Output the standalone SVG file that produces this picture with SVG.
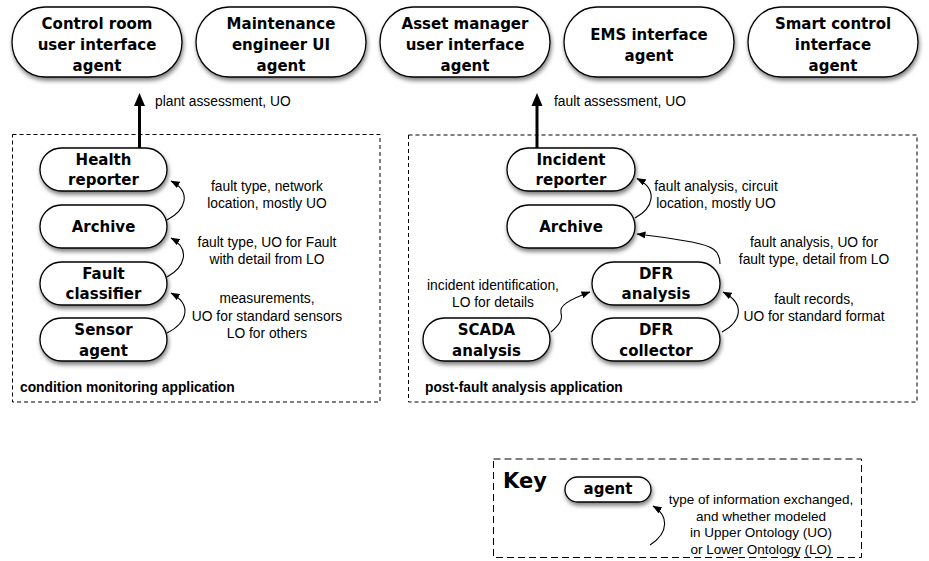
<svg xmlns="http://www.w3.org/2000/svg" width="929" height="561" viewBox="0 0 929 561">
<style>
.node{fill:#fff;stroke:#000;stroke-width:1.3;filter:url(#sh)}
.nt{font-family:"DejaVu Sans",sans-serif;font-weight:bold;font-size:15px;text-anchor:middle;fill:#000}
.lbl{font-family:"Liberation Sans",Arial,sans-serif;font-size:13.8px;text-anchor:middle;fill:#000}
.app{font-family:"Liberation Sans",Arial,sans-serif;font-size:13.8px;font-weight:bold;fill:#000}
.box{fill:none;stroke:#000;stroke-width:1;stroke-dasharray:4,3}
.conn{fill:none;stroke:#000;stroke-width:1.1;marker-end:url(#ah)}
</style>
<defs>
<filter id="sh" x="-10%" y="-20%" width="125%" height="160%">
<feDropShadow dx="1" dy="3" stdDeviation="2" flood-color="#000" flood-opacity="0.5"/>
</filter>
<marker id="ah" markerUnits="userSpaceOnUse" markerWidth="9" markerHeight="7" refX="8.5" refY="3.5" orient="auto">
<path d="M0,0 L9,3.5 L0,7 z" fill="#000"/>
</marker>
</defs>
<rect width="929" height="561" fill="#fff"/>

<g id="n-control">
<rect class="node" x="12" y="7" width="170" height="70" rx="33" ry="35"/>
<text class="nt" x="97" y="28.5">Control room</text>
<text class="nt" x="97" y="50">user interface</text>
<text class="nt" x="97" y="71">agent</text>
</g>
<g id="n-maint">
<rect class="node" x="196" y="7" width="170" height="70" rx="33" ry="35"/>
<text class="nt" x="281" y="28.5">Maintenance</text>
<text class="nt" x="281" y="50">engineer UI</text>
<text class="nt" x="281" y="71">agent</text>
</g>
<g id="n-asset">
<rect class="node" x="380" y="7" width="170" height="70" rx="33" ry="35"/>
<text class="nt" x="465" y="28.5">Asset manager</text>
<text class="nt" x="465" y="50">user interface</text>
<text class="nt" x="465" y="71">agent</text>
</g>
<g id="n-ems">
<rect class="node" x="564" y="7" width="170" height="70" rx="33" ry="35"/>
<text class="nt" x="649" y="39.5">EMS interface</text>
<text class="nt" x="649" y="60.5">agent</text>
</g>
<g id="n-smart">
<rect class="node" x="748" y="7" width="170" height="70" rx="33" ry="35"/>
<text class="nt" x="833" y="28.5">Smart control</text>
<text class="nt" x="833" y="50">interface</text>
<text class="nt" x="833" y="71">agent</text>
</g>

<g id="app-condition">
<rect class="box" x="12.5" y="134.5" width="367.5" height="267.5"/>
<text class="app" x="20" y="392">condition monitoring application</text>
</g>
<g id="app-postfault">
<rect class="box" x="408.5" y="135" width="508.5" height="267"/>
<text class="app" x="425" y="392">post-fault analysis application</text>
</g>

<g id="n-health">
<rect class="node" x="40" y="148" width="127" height="43" rx="21.5" ry="21.5"/>
<text class="nt" x="103.5" y="165">Health</text>
<text class="nt" x="103.5" y="185">reporter</text>
</g>
<g id="n-archive1">
<rect class="node" x="40" y="205" width="127" height="43" rx="21.5" ry="21.5"/>
<text class="nt" x="103.5" y="232">Archive</text>
</g>
<g id="n-faultclass">
<rect class="node" x="40" y="262" width="127" height="43" rx="21.5" ry="21.5"/>
<text class="nt" x="103.5" y="278.5">Fault</text>
<text class="nt" x="103.5" y="299">classifier</text>
</g>
<g id="n-sensor">
<rect class="node" x="40" y="318" width="127" height="43" rx="21.5" ry="21.5"/>
<text class="nt" x="103.5" y="335">Sensor</text>
<text class="nt" x="103.5" y="355.5">agent</text>
</g>

<g id="n-incident">
<rect class="node" x="507" y="148" width="128" height="43" rx="21.5" ry="21.5"/>
<text class="nt" x="571" y="165">Incident</text>
<text class="nt" x="571" y="185">reporter</text>
</g>
<g id="n-archive2">
<rect class="node" x="507" y="205" width="128" height="43" rx="21.5" ry="21.5"/>
<text class="nt" x="571" y="232">Archive</text>
</g>
<g id="n-dfranalysis">
<rect class="node" x="592" y="262" width="128" height="43" rx="21.5" ry="21.5"/>
<text class="nt" x="656" y="278.5">DFR</text>
<text class="nt" x="656" y="299">analysis</text>
</g>
<g id="n-scada">
<rect class="node" x="423" y="318" width="127" height="43" rx="21.5" ry="21.5"/>
<text class="nt" x="486.5" y="335">SCADA</text>
<text class="nt" x="486.5" y="355.5">analysis</text>
</g>
<g id="n-dfrcollector">
<rect class="node" x="592" y="318" width="128" height="43" rx="21.5" ry="21.5"/>
<text class="nt" x="656" y="335">DFR</text>
<text class="nt" x="656" y="355.5">collector</text>
</g>

<g id="key">
<rect class="box" x="493.5" y="459" width="368" height="98.5" style="stroke-dasharray:7,4"/>
<text x="503" y="488" style="font-family:'DejaVu Sans',sans-serif;font-weight:bold;font-size:21px">Key</text>
<g id="n-key-agent">
<rect class="node" x="565" y="477" width="86" height="25" rx="12.5" ry="12.5"/>
<text class="nt" x="608" y="494">agent</text>
</g>
<text class="lbl" x="761" y="504" style="font-size:13.5px">type of information exchanged,</text>
<text class="lbl" x="761" y="520.5" style="font-size:13.5px">and whether modeled</text>
<text class="lbl" x="761" y="537" style="font-size:13.5px">in Upper Ontology (UO)</text>
<text class="lbl" x="761" y="553.5" style="font-size:13.5px">or Lower Ontology (LO)</text>
</g>

<g id="connectors">
<line x1="139.5" y1="148" x2="139.5" y2="104" stroke="#000" stroke-width="3"/>
<polygon points="139.5,93 134,106 145,106" fill="#000"/>
<line x1="537" y1="148" x2="537" y2="104" stroke="#000" stroke-width="3"/>
<polygon points="537,93 531.5,106 542.5,106" fill="#000"/>

<path class="conn" d="M167,220 C186,210 192,192 171,181"/>
<path class="conn" d="M167,277 C185,267 191,249 171,238"/>
<path class="conn" d="M167,333 C187,323 193,305 171,293"/>

<path class="conn" d="M635,218 C653,208 659,190 637,178.5"/>
<path class="conn" d="M720,264 C720,250 712,246 692,242 C670,238 655,236 637,234"/>
<path class="conn" d="M722,332 C741,322 746,304 723,292"/>
<path class="conn" d="M551,332 C559,325 563,320 561,313 C559,306 568,300 590,292"/>
<path class="conn" d="M650,545 C670,532 668,515 653,506"/>

<text class="lbl" x="267" y="190.5">fault type, network</text>
<text class="lbl" x="267" y="207.5">location, mostly UO</text>
<text class="lbl" x="267" y="247">fault type, UO for Fault</text>
<text class="lbl" x="267" y="264">with detail from LO</text>
<text class="lbl" x="267" y="303">measurements,</text>
<text class="lbl" x="267" y="320.5">UO for standard sensors</text>
<text class="lbl" x="267" y="338">LO for others</text>

<text class="lbl" x="716" y="190.5">fault analysis, circuit</text>
<text class="lbl" x="716" y="207.5">location, mostly UO</text>
<text class="lbl" x="814" y="247">fault analysis, UO for</text>
<text class="lbl" x="814" y="264">fault type, detail from LO</text>
<text class="lbl" x="814" y="304">fault records,</text>
<text class="lbl" x="814" y="321">UO for standard format</text>
<text class="lbl" x="493" y="290">incident identification,</text>
<text class="lbl" x="493" y="307">LO for details</text>

<text class="lbl" x="155" y="106" style="text-anchor:start">plant assessment, UO</text>
<text class="lbl" x="554" y="106" style="text-anchor:start">fault assessment, UO</text>
</g>
</svg>
